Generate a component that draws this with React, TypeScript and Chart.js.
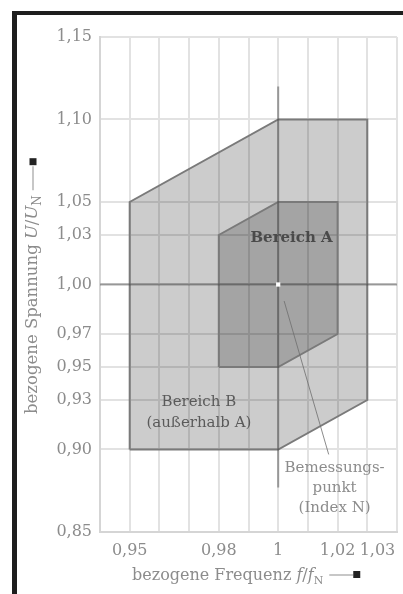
import React, { useEffect, useRef } from "react";
import { Chart, registerables } from "chart.js";
Chart.register(...registerables);

// ---- data ----
const xTickValues = [0.94, 0.95, 0.96, 0.97, 0.98, 0.99, 1.0, 1.01, 1.02, 1.03, 1.04];
const xLabeledTicks = [0.95, 0.98, 1.0, 1.02, 1.03];
const yTickValues = [0.85, 0.9, 0.93, 0.95, 0.97, 1.0, 1.03, 1.05, 1.1, 1.15];

const zoneBx = [0.95, 0.95, 1.0, 1.03, 1.03, 1.0, 0.95];
const zoneBy = [0.9, 1.05, 1.1, 1.1, 0.93, 0.9, 0.9];
const zoneAx = [0.98, 0.98, 1.0, 1.02, 1.02, 1.0, 0.98];
const zoneAy = [0.95, 1.03, 1.05, 1.05, 0.97, 0.95, 0.95];

const hAxisX = [0.94, 1.04];
const hAxisY = [1.0, 1.0];
const vAxisX = [1.0, 1.0];
const vAxisY = [0.877, 1.12];
const leaderX = [1.002, 1.017];
const leaderY = [0.99, 0.897];
const ratedX = [1.0];
const ratedY = [1.0];

const labelA = { text: "Bereich A", x: 1.0045, y: 1.028 };
const labelB = { lines: ["Bereich B", "(außerhalb A)"], x: 0.9733, y: 0.929 };
const labelN = { lines: ["Bemessungs-", "punkt", "(Index N)"], x: 1.019, y: 0.889 };

const zip = (xs: number[], ys: number[]) => xs.map((x, i) => ({ x, y: ys[i] }));
const fmt = (v: number) => v.toFixed(2).replace(".", ",");
const near = (a: number, b: number) => Math.abs(a - b) < 1e-6;

const SERIF = '"DejaVu Serif", serif';

type Seg = { t: string; italic?: boolean; sub?: boolean };

function drawSegs(ctx: CanvasRenderingContext2D, segs: Seg[], x: number, y: number, size: number) {
  let cx = x;
  for (const s of segs) {
    const sz = s.sub ? Math.round(size * 0.7) : size;
    ctx.font = `${s.italic ? "italic " : ""}${sz}px ${SERIF}`;
    ctx.fillText(s.t, cx, s.sub ? y + size * 0.3 : y);
    cx += ctx.measureText(s.t).width;
  }
  return cx;
}

const annotations = {
  id: "annotations",
  afterDatasetsDraw(chart: any) {
    const ctx: CanvasRenderingContext2D = chart.ctx;
    const xs = chart.scales.x;
    const ys = chart.scales.y;
    ctx.save();
    ctx.textAlign = "center";
    ctx.textBaseline = "middle";
    // Bereich A
    ctx.fillStyle = "#4a4a4a";
    ctx.font = `bold 15px ${SERIF}`;
    ctx.fillText(labelA.text, xs.getPixelForValue(labelA.x), ys.getPixelForValue(labelA.y));
    // Bereich B
    ctx.fillStyle = "#5a5a5a";
    ctx.font = `15px ${SERIF}`;
    labelB.lines.forEach((l, i) =>
      ctx.fillText(l, xs.getPixelForValue(labelB.x), ys.getPixelForValue(labelB.y) + i * 21)
    );
    // Bemessungspunkt
    ctx.fillStyle = "#8c8c8c";
    labelN.lines.forEach((l, i) =>
      ctx.fillText(l, xs.getPixelForValue(labelN.x), ys.getPixelForValue(labelN.y) + i * 20)
    );
    ctx.restore();
  },
  afterDraw(chart: any) {
    const ctx: CanvasRenderingContext2D = chart.ctx;
    ctx.save();
    ctx.textAlign = "left";
    ctx.textBaseline = "middle";
    ctx.fillStyle = "#8c8c8c";
    // x title
    const ex = drawSegs(
      ctx,
      [{ t: "bezogene Frequenz " }, { t: "f", italic: true }, { t: "/" }, { t: "f", italic: true }, { t: "N", sub: true }],
      132,
      576,
      16
    );
    ctx.strokeStyle = "#b5b5b5";
    ctx.lineWidth = 1.5;
    ctx.beginPath();
    ctx.moveTo(ex + 6, 575);
    ctx.lineTo(ex + 30, 575);
    ctx.stroke();
    ctx.fillStyle = "#222";
    ctx.fillRect(ex + 30, 571, 7, 7);
    // y title (rotated)
    ctx.translate(33, 414);
    ctx.rotate(-Math.PI / 2);
    ctx.fillStyle = "#8c8c8c";
    const ey = drawSegs(
      ctx,
      [{ t: "bezogene Spannung " }, { t: "U", italic: true }, { t: "/" }, { t: "U", italic: true }, { t: "N", sub: true }],
      0,
      0,
      16.5
    );
    ctx.beginPath();
    ctx.moveTo(ey + 5, 0);
    ctx.lineTo(ey + 29, 0);
    ctx.stroke();
    ctx.fillStyle = "#222";
    ctx.fillRect(ey + 30, -3.5, 7, 7);
    ctx.restore();
  },
};

export default function App() {
  const ref = useRef<HTMLCanvasElement | null>(null);
  useEffect(() => {
    if (!ref.current) return;
    const edge = "#7a7a7a";
    const chart = new Chart(ref.current, {
      type: "scatter",
      data: {
        datasets: [
          {
            label: "rated",
            data: zip(ratedX, ratedY),
            pointStyle: "rect",
            pointRadius: 3,
            backgroundColor: "#ffffff",
            borderColor: "#ffffff",
            borderWidth: 0,
            order: 0,
          },
          {
            label: "leader",
            data: zip(leaderX, leaderY),
            showLine: true,
            borderColor: "rgba(110,110,110,0.8)",
            borderWidth: 1,
            pointRadius: 0,
            order: 1,
          },
          {
            label: "hAxis",
            data: zip(hAxisX, hAxisY),
            showLine: true,
            borderColor: "rgba(60,60,60,0.45)",
            borderWidth: 2,
            pointRadius: 0,
            order: 2,
          },
          {
            label: "vAxis",
            data: zip(vAxisX, vAxisY),
            showLine: true,
            borderColor: "rgba(60,60,60,0.45)",
            borderWidth: 2,
            pointRadius: 0,
            order: 3,
          },
          {
            label: "Bereich A",
            data: zip(zoneAx, zoneAy),
            showLine: true,
            fill: "shape",
            backgroundColor: "rgba(0,0,0,0.2)",
            borderColor: edge,
            borderWidth: 2,
            pointRadius: 0,
            tension: 0,
            order: 4,
          },
          {
            label: "Bereich B",
            data: zip(zoneBx, zoneBy),
            showLine: true,
            fill: "shape",
            backgroundColor: "rgba(0,0,0,0.2)",
            borderColor: edge,
            borderWidth: 2,
            pointRadius: 0,
            tension: 0,
            order: 5,
          },
        ],
      },
      options: {
        animation: false,
        responsive: false,
        layout: { padding: { top: 37, right: 6, left: 0, bottom: 0 } },
        plugins: { legend: { display: false }, tooltip: { enabled: false }, title: { display: false } },
        scales: {
          x: {
            type: "linear",
            min: 0.94,
            max: 1.04,
            afterBuildTicks: (axis: any) => {
              axis.ticks = xTickValues.map((v) => ({ value: v }));
            },
            afterFit: (scale: any) => {
              scale.height = 62;
              scale.paddingLeft = 0;
              scale.paddingRight = 0;
            },
            grid: { color: "#e2e2e2", lineWidth: 2, drawTicks: false },
            border: { color: "#d5d5d5", width: 2 },
            ticks: {
              padding: 9,
              color: "#8c8c8c",
              font: { family: SERIF, size: 16 },
              maxRotation: 0,
              autoSkip: false,
              callback: (v: any) => {
                const n = Number(v);
                if (!xLabeledTicks.some((t) => near(t, n))) return "";
                if (near(n, 1)) return "1";
                if (near(n, 1.03)) return "    " + fmt(n);
                return fmt(n);
              },
            },
          },
          y: {
            type: "linear",
            min: 0.85,
            max: 1.15,
            afterBuildTicks: (axis: any) => {
              axis.ticks = yTickValues.map((v) => ({ value: v }));
            },
            afterFit: (scale: any) => {
              scale.width = 100;
              scale.paddingTop = 0;
              scale.paddingBottom = 0;
            },
            grid: { color: "#e2e2e2", lineWidth: 2, drawTicks: false },
            border: { color: "#d5d5d5", width: 2 },
            ticks: {
              padding: 8,
              color: "#8c8c8c",
              font: { family: SERIF, size: 16 },
              autoSkip: false,
              callback: (v: any) => fmt(Number(v)),
            },
          },
        },
      },
      plugins: [annotations],
    } as any);
    return () => chart.destroy();
  }, []);
  return (
    <div style={{ position: "fixed", left: 0, top: 0, width: 403, height: 594, background: "#fff" }}>
      <canvas ref={ref} width={403} height={594} style={{ position: "absolute", left: 0, top: 0 }} />
      <div
        style={{
          position: "absolute",
          left: 12,
          top: 11,
          right: 0,
          bottom: 0,
          borderTop: "4px solid #1e1e1e",
          borderLeft: "5px solid #1e1e1e",
          pointerEvents: "none",
        }}
      />
    </div>
  );
}
